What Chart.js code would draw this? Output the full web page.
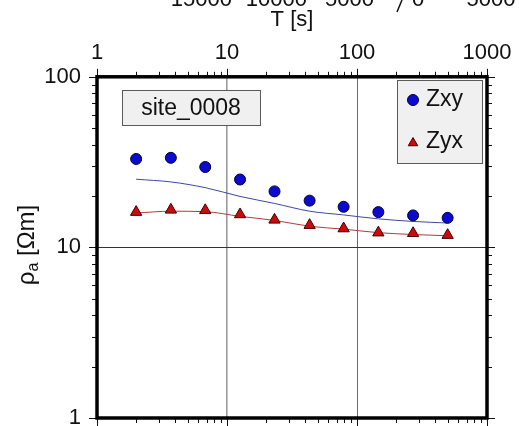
<!DOCTYPE html>
<html>
<head>
<meta charset="utf-8">
<script src="https://cdn.jsdelivr.net/npm/chart.js@4/dist/chart.umd.min.js"></script>
<style>
html,body{margin:0;padding:0;background:#fff;}
#wrap{width:519px;height:426px;position:relative;}
</style>
</head>
<body>
<div id="wrap"><canvas id="c" width="519" height="426"></canvas></div>
<script>
// ---- data ----
const periods  = [2.0, 3.7, 6.8, 12.6, 23.2, 43.2, 78.9, 146, 270, 498];
const rhoXY    = [33.0, 33.5, 29.6, 25.0, 21.3, 18.8, 17.3, 16.1, 15.4, 14.9];
const rhoYX    = [16.1, 16.6, 16.5, 15.6, 14.5, 13.5, 12.9, 12.2, 12.1, 11.8];
const modelXY  = [25.1, 24.2, 22.4, 19.9, 18.1, 16.3, 15.5, 14.7, 14.2, 13.9];
const modelYX  = [15.9, 16.3, 16.2, 15.2, 14.4, 13.3, 12.8, 12.2, 11.9, 11.7];
const xTickLabels = ['1', '10', '100', '1000'];
const yTickLabels = ['1', '10', '100'];
const seriesNames = ['Zxy', 'Zyx'];
const siteName = 'site_0008';
const xTitle = 'T [s]';
const yTitleMain = 'ρ', yTitleSub = 'a', yTitleRest = ' [Ωm]';
const clippedTopLabels = ['−15000', '−10000', '−5000', '0', '5000'];

// ---- styling ----
const FONT = "'Liberation Sans', Arial, Helvetica, sans-serif";
const BLUE = '#0a0ad0', RED = '#cc0a0a';
const isDecade = v => { const l = Math.log10(v); return Math.abs(l - Math.round(l)) < 1e-9; };
const pts = (xs, ys) => xs.map((x, i) => ({x, y: ys[i]}));

function minorVals(min, max) {
  const out = [];
  for (let e = Math.floor(Math.log10(min)); e <= Math.ceil(Math.log10(max)); e++)
    for (let k = 1; k <= 9; k++) {
      const v = k * Math.pow(10, e);
      if (v >= min * (1 - 1e-9) && v <= max * (1 + 1e-9)) out.push(v);
    }
  return out;
}

const decor = {
  id: 'decor',
  afterDatasetsDraw(chart) {
    const {ctx} = chart;
    ctx.save();
    // site label box
    const sb = {l: 122, t: 90, r: 260, b: 125};
    ctx.fillStyle = '#f0f0f0'; ctx.strokeStyle = '#5a5a5a'; ctx.lineWidth = 1;
    ctx.fillRect(sb.l, sb.t, sb.r - sb.l, sb.b - sb.t);
    ctx.strokeRect(sb.l + 0.5, sb.t + 0.5, sb.r - sb.l, sb.b - sb.t);
    ctx.fillStyle = '#111'; ctx.font = '23px ' + FONT;
    ctx.textAlign = 'center'; ctx.textBaseline = 'middle';
    ctx.fillText(siteName, (sb.l + sb.r) / 2, (sb.t + sb.b) / 2 + 1);
    // legend box
    const lb = {l: 397, t: 80, r: 482, b: 163};
    ctx.fillStyle = '#f0f0f0';
    ctx.fillRect(lb.l, lb.t, lb.r - lb.l, lb.b - lb.t);
    ctx.strokeRect(lb.l + 0.5, lb.t + 0.5, lb.r - lb.l, lb.b - lb.t);
    // circle
    ctx.beginPath(); ctx.arc(413, 100, 5.5, 0, Math.PI * 2);
    ctx.fillStyle = BLUE; ctx.fill(); ctx.strokeStyle = '#000040'; ctx.stroke();
    // triangle
    const tr = 5.5, tx = 413, ty = 143;
    ctx.beginPath();
    ctx.moveTo(tx, ty - tr);
    ctx.lineTo(tx + tr * 0.866, ty + tr * 0.5);
    ctx.lineTo(tx - tr * 0.866, ty + tr * 0.5);
    ctx.closePath();
    ctx.fillStyle = RED; ctx.fill(); ctx.strokeStyle = '#400000'; ctx.stroke();
    ctx.fillStyle = '#111'; ctx.textAlign = 'left'; ctx.textBaseline = 'middle';
    ctx.fillText(seriesNames[0], 426, 100);
    ctx.fillText(seriesNames[1], 426, 142);
    ctx.restore();
  },
  afterDraw(chart) {
    const {ctx, chartArea: a, scales: {x, y}} = chart;
    ctx.save();
    ctx.strokeStyle = '#111'; ctx.lineWidth = 1;
    const seg = (x1, y1, x2, y2) => { ctx.beginPath(); ctx.moveTo(x1, y1); ctx.lineTo(x2, y2); ctx.stroke(); };
    for (const v of minorVals(x.min, x.max)) {
      const px = Math.round(x.getPixelForValue(v)) + 0.5;
      const len = isDecade(v) ? 8 : 5;
      seg(px, a.top, px, a.top - len);
      seg(px, a.bottom, px, a.bottom + len);
    }
    for (const v of minorVals(y.min, y.max)) {
      const py = Math.round(y.getPixelForValue(v)) + 0.5;
      const len = isDecade(v) ? 8 : 5;
      seg(a.left, py, a.left - len, py);
      seg(a.right, py, a.right + len, py);
    }
    // frame
    ctx.lineWidth = 3.5; ctx.strokeStyle = '#000';
    ctx.strokeRect(a.left, a.top, a.right - a.left, a.bottom - a.top);
    // y title with subscript
    ctx.fillStyle = '#111';
    ctx.translate(34, 245); ctx.rotate(-Math.PI / 2);
    ctx.textBaseline = 'alphabetic'; ctx.textAlign = 'left';
    ctx.font = '24px ' + FONT; const w1 = ctx.measureText(yTitleMain).width;
    ctx.font = '16px ' + FONT; const w2 = ctx.measureText(yTitleSub).width;
    ctx.font = '24px ' + FONT; const w3 = ctx.measureText(yTitleRest).width;
    let sx = -(w1 + w2 + w3) / 2;
    ctx.fillText(yTitleMain, sx, 0); sx += w1;
    ctx.font = '16px ' + FONT; ctx.fillText(yTitleSub, sx, 4); sx += w2;
    ctx.font = '24px ' + FONT; ctx.fillText(yTitleRest, sx, 0);
    ctx.restore();
    // clipped labels of an axis above, mostly outside the picture
    ctx.save();
    ctx.fillStyle = '#111'; ctx.font = '22px ' + FONT;
    ctx.textAlign = 'center'; ctx.textBaseline = 'alphabetic';
    const cx = [195, 270, 343, 418, 491];
    clippedTopLabels.forEach((t, i) => ctx.fillText(t, cx[i], 6));
    ctx.strokeStyle = '#111'; ctx.lineWidth = 1.5;
    ctx.beginPath(); ctx.moveTo(402, 0); ctx.lineTo(397, 12); ctx.stroke();
    ctx.restore();
  }
};

new Chart(document.getElementById('c'), {
  type: 'scatter',
  data: {
    datasets: [
      {label: 'model xy', data: pts(periods, modelXY), showLine: true, borderColor: '#3c48a0', borderWidth: 1,
       pointRadius: 0, tension: 0.4, cubicInterpolationMode: 'monotone', order: 4},
      {label: 'model yx', data: pts(periods, modelYX), showLine: true, borderColor: '#b03a3a', borderWidth: 1,
       pointRadius: 0, tension: 0.4, cubicInterpolationMode: 'monotone', order: 3},
      {label: seriesNames[0], data: pts(periods, rhoXY), pointStyle: 'circle', pointRadius: 5.5,
       backgroundColor: BLUE, borderColor: '#000040', borderWidth: 1, order: 2},
      {label: seriesNames[1], data: pts(periods, rhoYX), pointStyle: 'triangle', pointRadius: 6.5,
       backgroundColor: RED, borderColor: '#400000', borderWidth: 1, order: 1}
    ]
  },
  options: {
    responsive: false, animation: false, devicePixelRatio: 1,
    layout: {padding: {left: 28.3, top: 6.8, right: 32, bottom: 8}},
    plugins: {legend: {display: false}, tooltip: {enabled: false}},
    scales: {
      x: {
        type: 'logarithmic', position: 'top', min: 1, max: 1000,
        border: {display: false},
        grid: {
          drawTicks: false,
          color: c => { const v = c.tick && c.tick.value; return (v && isDecade(v) && v > 1 && v < 1000) ? (v === 10 ? '#9a9a9a' : '#6a6a6a') : 'rgba(0,0,0,0)'; },
          lineWidth: c => (c.tick && c.tick.value === 10 ? 1.6 : 1)
        },
        ticks: {
          autoSkip: false, maxRotation: 0, minRotation: 0, padding: 10.8, color: '#111',
          font: {family: FONT, size: 22},
          callback: v => (isDecade(v) ? xTickLabels[Math.round(Math.log10(v))] : '')
        },
        title: {display: true, text: xTitle, color: '#111', font: {family: FONT, size: 22}, padding: {top: 0, bottom: -4.4}},
        afterFit: s => { s.paddingLeft = 0; s.paddingRight = 0; }
      },
      y: {
        type: 'logarithmic', position: 'left', min: 1, max: 100,
        border: {display: false},
        grid: {
          drawTicks: false,
          color: c => { const v = c.tick && c.tick.value; return (v && isDecade(v) && v > 1 && v < 100) ? '#333' : 'rgba(0,0,0,0)'; },
          lineWidth: 1
        },
        ticks: {
          autoSkip: false, padding: 16, color: '#111',
          font: {family: FONT, size: 22},
          callback: v => (isDecade(v) ? yTickLabels[Math.round(Math.log10(v))] : '')
        },
        afterFit: s => { s.paddingTop = 0; s.paddingBottom = 0; }
      }
    }
  },
  plugins: [decor]
});
</script>
</body>
</html>
